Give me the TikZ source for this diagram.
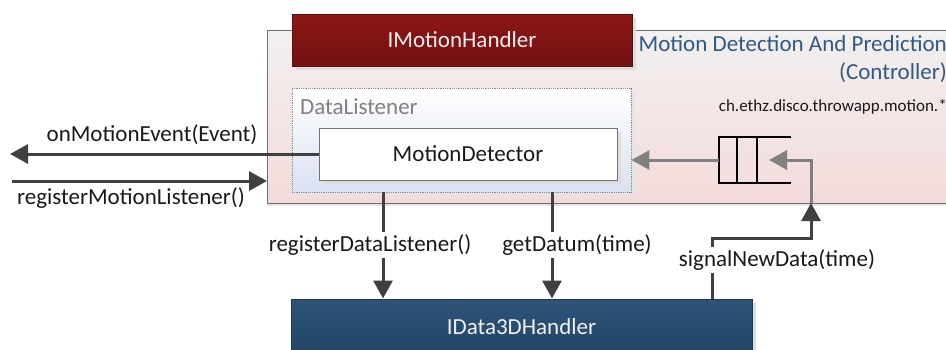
\documentclass[tikz,border=0pt]{standalone}
\usepackage{fontspec}
\setmainfont{Carlito}
\usetikzlibrary{arrows.meta,shadows}

\definecolor{redtop}{HTML}{8E1717}
\definecolor{redbot}{HTML}{721010}
\definecolor{redline}{HTML}{5A0D0D}
\definecolor{bluetop}{HTML}{2D5478}
\definecolor{bluebot}{HTML}{234566}
\definecolor{blueline}{HTML}{1C3852}
\definecolor{titleblue}{HTML}{2F5A85}
\definecolor{darkline}{HTML}{404040}
\definecolor{softline}{HTML}{808080}
\definecolor{framegray}{HTML}{6E6E6E}

\tikzset{
  big/.style={font=\fontsize{23}{28}\selectfont},
  small/.style={font=\fontsize{17}{20}\selectfont},
  shade/.style={copy shadow={shadow xshift=4pt, shadow yshift=-4pt, draw=none, fill=black!13}},
  iface/.style={big, text=white!94!black, shade, line width=1pt},
  conn/.style={draw=darkline, line width=3pt, -{Triangle[length=18pt,width=19pt]}},
  softconn/.style={draw=softline, line width=3pt, -{Triangle[length=18pt,width=19pt]}},
  lbl/.style={big, text=black!90, fill=white, inner sep=3pt},
}

\begin{document}
\begin{tikzpicture}[x=1pt,y=-1pt]
\useasboundingbox (0,0) rectangle (946,349);
\clip (0,0) rectangle (946,349);

% controller package frame
\node[draw=framegray, line width=1pt, top color={rgb,255:red,242;green,240;blue,240},
      bottom color={rgb,255:red,244;green,219;blue,219}, minimum width=693pt, minimum height=173pt,
      copy shadow={shadow xshift=0pt, shadow yshift=-3pt, draw=none, fill=black!10}]
      (pkg) at (613.5,116.5) {};

\node[big, text=titleblue, align=right, anchor=north east, inner sep=0pt] (title) at (947,35)
  {Motion Detection And Prediction\\(Controller)};
\node[small, text=black!90, anchor=east, inner sep=0pt] (pkgname) at (947,107)
  {ch.ethz.disco.throwapp.motion.*};

% interface provided to the outside
\node[iface, draw=redline, top color=redtop, bottom color=redbot,
      minimum width=340pt, minimum height=52pt] (imh) at (462,40) {IMotionHandler};

% data listener role
\node[draw=black!45, densely dotted, line width=0.8pt, top color=white,
      bottom color={rgb,255:red,218;green,225;blue,242}, minimum width=339pt, minimum height=104pt,
      copy shadow={shadow xshift=4pt, shadow yshift=-3pt, draw=none, fill=black!10}]
      (dl) at (461.5,140) {};
\node[big, text=black!50, anchor=west, inner sep=0pt] (dllabel) at (300,107) {DataListener};

\node[big, text=black!90, draw=black!55, line width=1pt, fill=white, shade,
      minimum width=298pt, minimum height=52pt] (md) at (468,154) {MotionDetector};

% data handler below
\node[iface, draw=blueline, top color=bluetop, bottom color=bluebot,
      minimum width=461pt, minimum height=56pt] (idh) at (521.5,327) {IData3DHandler};

% event queue
\coordinate (qw) at (719,160);
\coordinate (qin) at (769,160);
\draw[line width=2pt, black] (791,137) -- (719,137) -- (719,183) -- (791,183);
\draw[line width=2pt, black] (737,137) -- (737,183) (757,137) -- (757,183);

% connectors
\coordinate (outL) at (10,154);
\coordinate (inL) at (12,181);
\coordinate (pkgL) at (267,181);
\coordinate (sigup) at (811,203);

\draw[conn] (md.west) -- (outL);
\draw[conn] (inL) -- (pkgL);
\draw[softconn] (qw) -- (dl.east |- qw);
\draw[softconn] (sigup) -- (811,160) -- (qin);

\draw[conn] (dl.south -| 383,0) -- (idh.north -| 383,0);
\draw[conn] (dl.south -| 552,0) -- (idh.north -| 552,0);
\draw[conn] (idh.north -| 712,0) -- (712,238) -- (811,238) -- (sigup);

% labels
\node[big, text=black!90, inner sep=0pt] (lonm) at (152,135) {onMotionEvent(Event)};
\node[big, text=black!90, inner sep=0pt] (lreg) at (131,198) {registerMotionListener()};
\node[lbl] (lrdl) at (370,245) {registerDataListener()};
\node[lbl] (lget) at (577,245) {getDatum(time)};
\node[lbl] (lsig) at (777,260) {signalNewData(time)};
\end{tikzpicture}
\end{document}
